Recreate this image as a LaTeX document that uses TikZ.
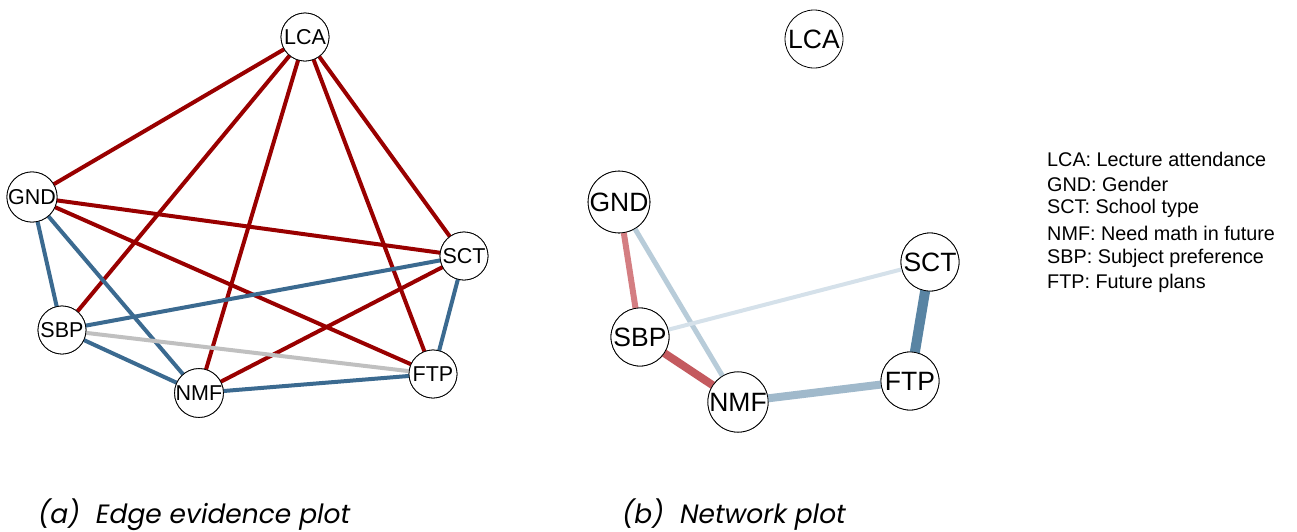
\documentclass[tikz,border=0pt]{standalone}
\usepackage{fontspec}
\setmainfont{Liberation Sans}
\newfontfamily\capfont{Poppins}
\definecolor{evred}{HTML}{990000}
\definecolor{evblue}{HTML}{3B6A90}
\definecolor{evgray}{HTML}{C0C0C0}
\definecolor{nwA}{HTML}{D47E82}
\definecolor{nwB}{HTML}{B8CCD9}
\definecolor{nwC}{HTML}{D5E1EA}
\definecolor{nwD}{HTML}{C45A5F}
\definecolor{nwE}{HTML}{A0B9CB}
\definecolor{nwF}{HTML}{5984A3}
\begin{document}
\begin{tikzpicture}[x=1pt,y=-1pt,
  smallnode/.style={circle,draw=black,line width=0.8pt,fill=white,minimum size=48pt,inner sep=0pt,font=\fontsize{21.5}{21.5}\selectfont},
  bignode/.style={circle,draw=black,line width=0.8pt,fill=white,minimum size=58pt,inner sep=0pt,font=\fontsize{26.5}{26.5}\selectfont},
  evedge/.style={line width=4pt},
  legend/.style={anchor=west,inner sep=0pt,font=\fontsize{19.8}{19.8}\selectfont},
  caption/.style={anchor=west,inner sep=0pt,font=\capfont\itshape\fontsize{26.5}{26.5}\selectfont}]
\useasboundingbox (0,0) rectangle (1297,531);
% left plot: edge evidence
\node[smallnode] (aLCA) at (305,37) {LCA};
\node[smallnode] (aGND) at (32,197) {GND};
\node[smallnode] (aSCT) at (464,256) {SCT};
\node[smallnode] (aSBP) at (62,330) {SBP};
\node[smallnode] (aNMF) at (199,393) {NMF};
\node[smallnode] (aFTP) at (433,374) {FTP};
\draw[evedge,evred] (aLCA.center) -- (aGND.center);
\draw[evedge,evred] (aLCA.center) -- (aSBP.center);
\draw[evedge,evred] (aLCA.center) -- (aNMF.center);
\draw[evedge,evred] (aLCA.center) -- (aFTP.center);
\draw[evedge,evred] (aLCA.center) -- (aSCT.center);
\draw[evedge,evred] (aGND.center) -- (aSCT.center);
\draw[evedge,evred] (aGND.center) -- (aFTP.center);
\draw[evedge,evred] (aSCT.center) -- (aNMF.center);
\draw[evedge,evblue] (aGND.center) -- (aSBP.center);
\draw[evedge,evblue] (aGND.center) -- (aNMF.center);
\draw[evedge,evblue] (aSBP.center) -- (aSCT.center);
\draw[evedge,evblue] (aSBP.center) -- (aNMF.center);
\draw[evedge,evblue] (aNMF.center) -- (aFTP.center);
\draw[evedge,evblue] (aSCT.center) -- (aFTP.center);
\draw[evedge,evgray] (aSBP.center) -- (aFTP.center);
\node[smallnode] at (aLCA.center) {LCA};
\node[smallnode] at (aGND.center) {GND};
\node[smallnode] at (aSCT.center) {SCT};
\node[smallnode] at (aSBP.center) {SBP};
\node[smallnode] at (aNMF.center) {NMF};
\node[smallnode] at (aFTP.center) {FTP};
% right plot: network
\node[bignode] (bLCA) at (814,39) {LCA};
\node[bignode] (bGND) at (619,202) {GND};
\node[bignode] (bSCT) at (930,262) {SCT};
\node[bignode] (bSBP) at (640,337) {SBP};
\node[bignode] (bNMF) at (738,402) {NMF};
\node[bignode] (bFTP) at (910,381) {FTP};
\draw[nwA,line width=6pt] (bGND.center) -- (bSBP.center);
\draw[nwB,line width=5pt] (bGND.center) -- (bNMF.center);
\draw[nwC,line width=4pt] (bSBP.center) -- (bSCT.center);
\draw[nwD,line width=8pt] (bSBP.center) -- (bNMF.center);
\draw[nwE,line width=8pt] (bNMF.center) -- (bFTP.center);
\draw[nwF,line width=10pt] (bSCT.center) -- (bFTP.center);
\node[bignode] at (bGND.center) {GND};
\node[bignode] at (bSCT.center) {SCT};
\node[bignode] at (bSBP.center) {SBP};
\node[bignode] at (bNMF.center) {NMF};
\node[bignode] at (bFTP.center) {FTP};
% legend
\node[legend] (l1) at (1047,159) {LCA: Lecture attendance};
\node[legend] (l2) at (1047,184) {GND: Gender};
\node[legend] (l3) at (1047,208) {SCT: School type};
\node[legend] (l4) at (1047,233) {NMF: Need math in future};
\node[legend] (l5) at (1047,258) {SBP: Subject preference};
\node[legend] (l6) at (1047,283) {FTP: Future plans};
% captions
\node[caption] (ca) at (38,515) {(a)\ \ Edge evidence plot};
\node[caption] (cb) at (622,515) {(b)\ \ Network plot};
\end{tikzpicture}
\end{document}
